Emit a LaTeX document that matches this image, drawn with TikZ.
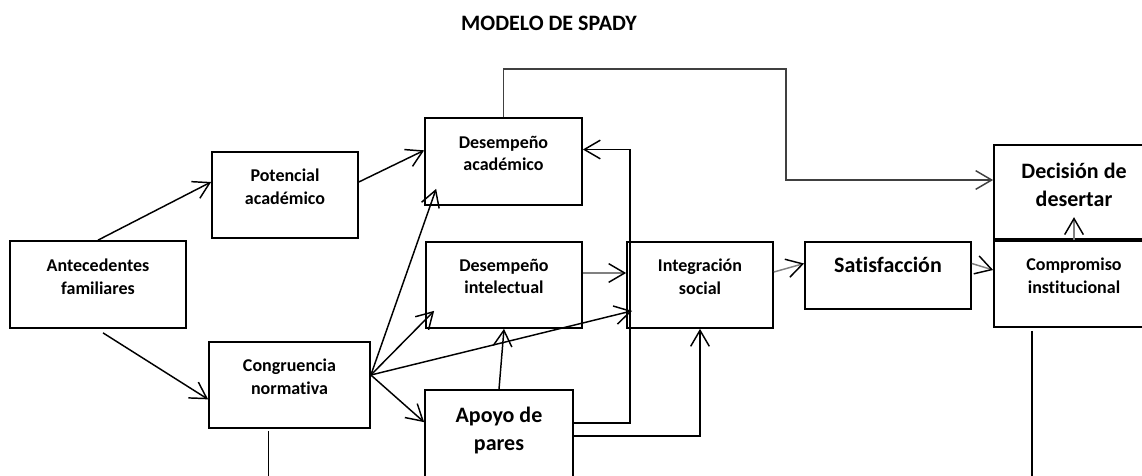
\documentclass[tikz,border=0pt]{standalone}
\usepackage{fontspec}
\setmainfont{Carlito}[Ligatures=CommonOff]
\usetikzlibrary{arrows.meta,calc}

\begin{document}
\begin{tikzpicture}[->,>={Straight Barb[length=12pt,width=14pt]},line width=1.1pt,
                    x=0.75pt,y=-0.75pt]
  \tikzstyle{box}=[draw=black,line width=1.3pt,inner sep=0pt]
  \tikzstyle{lbl}=[font=\bfseries\fontsize{13.5}{17}\selectfont,align=center,inner sep=0pt,anchor=north]
  \tikzstyle{biglbl}=[lbl,font=\bfseries\fontsize{16.5}{21}\selectfont]
  \tikzstyle{grey}=[draw=black!50,-{Straight Barb[length=12pt,width=14pt,color=black]}]

  \useasboundingbox (0,0) rectangle (1142,475);
  \clip (0,0) rectangle (1142,475);

  \node[font=\bfseries\fontsize{16.5}{20}\selectfont] (title) at (549,23) {MODELO DE SPADY};

  % boxes
  \node[box,minimum width=132pt,minimum height=65.25pt]   (antec)   at (98,284.5)  {};
  \node[box,minimum width=109.5pt,minimum height=64.5pt]  (potenc)  at (285,195)   {};
  \node[box,minimum width=117.75pt,minimum height=65.25pt] (desacad) at (503.5,161.5) {};
  \node[box,minimum width=117pt,minimum height=64.5pt]    (desint)  at (504,285)   {};
  \node[box,minimum width=120.75pt,minimum height=64.5pt] (congru)  at (289.5,385) {};
  \node[box,minimum width=111pt,minimum height=69pt]      (apoyo)   at (499,436)   {};
  \node[box,minimum width=109.5pt,minimum height=64.5pt]  (intsoc)  at (700,285)   {};
  \node[box,minimum width=124.5pt,minimum height=50.25pt] (satisf)  at (888,275.5) {};
  \node[box,minimum width=120pt,minimum height=72pt]      (decis)   at (1074,193)  {};
  \node[box,minimum width=120pt,minimum height=64.5pt]    (compro)  at (1074,284)  {};
  \draw[-,line width=2.5pt] (compro.north west) -- (compro.north east);

  % texts
  \node[lbl]    (antecl)   at ($(antec.north)+(0,18)$)   {Antecedentes\\familiares};
  \node[lbl]    (potencl)  at ($(potenc.north)+(0,17)$)  {Potencial\\académico};
  \node[lbl]    (desacadl) at ($(desacad.north)+(0,18)$) {Desempeño\\académico};
  \node[lbl]    (desintl)  at ($(desint.north)+(0,17)$)  {Desempeño\\intelectual};
  \node[lbl]    (congrul)  at ($(congru.north)+(0,17)$)  {Congruencia\\normativa};
  \node[biglbl] (apoyol)   at ($(apoyo.north)+(0,17)$)   {Apoyo de\\pares};
  \node[lbl]    (intsocl)  at ($(intsoc.north)+(0,17)$)  {Integración\\social};
  \node[biglbl] (satisfl)  at ($(satisf.north)+(0,15)$)  {Satisfacción};
  \node[biglbl] (decisl)   at ($(decis.north)+(0,18)$)   {Decisión de\\desertar};
  \node[lbl]    (comprol)  at ($(compro.north)+(0,17)$)  {Compromiso\\institucional};

  % connectors
  \path (antec.north) edge (potenc.170)
        ($(antec.south)+(5,4)$) edge (congru.190)
        (potenc.10) edge (desacad.172)
        (congru.7) edge ($(desacad.south west)+(12,-17)$)
        (congru.7) edge ($(desint.south west)+(9,-18)$)
        (congru.7) edge ($(intsoc.south west)+(6,-18)$)
        (congru.7) edge ($(apoyo.north west)+(0,33)$)
        (apoyo.north) edge (desint.south);

  \draw[grey] ($(desint.east)+(0,-12)$) -- ($(intsoc.west)+(0,-12)$);
  \draw[grey] ($(intsoc.east)+(0,-13)$) -- ($(satisf.west)+(0,-12)$);
  \draw[grey] ($(satisf.east)+(0,-12)$) -- ($(compro.west)+(0,-14)$);
  \draw[grey] (compro.north) -- ++(0,-23);

  \draw[draw=black!75] (desacad.north) -- ++(0,-48) -| ($(decis.west)+(-207,-13)$) -- ($(decis.west)+(0,-13)$);
  \draw ($(apoyo.north east)+(0,34)$) -| ($(desacad.east)+(47,-12)$) -- ($(desacad.east)+(0,-12)$);
  \draw ($(apoyo.north east)+(0,47)$) -| (intsoc.south);

  \draw[-] ($(congru.south)+(-21,2)$) -- ++(0,50);
  \draw[-] ($(compro.south)+(-42,3)$) -- ++(0,150);
\end{tikzpicture}
\end{document}
